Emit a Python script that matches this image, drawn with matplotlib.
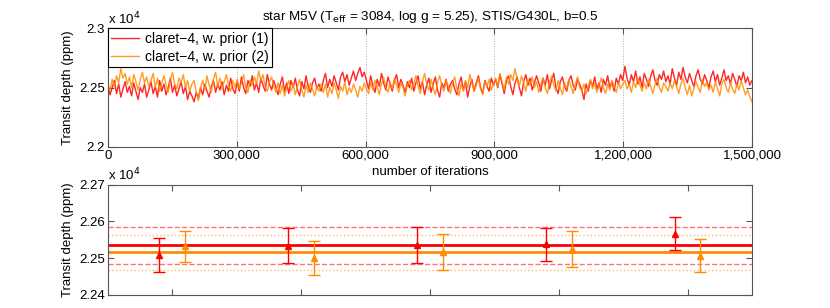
import numpy as np
import matplotlib
matplotlib.use("Agg")
import matplotlib.pyplot as plt
from matplotlib.ticker import FuncFormatter

plt.rcParams['font.family'] = ['Liberation Sans', 'DejaVu Sans']

title = r"star M5V (T$_{\rm eff}$ = 3084, log g = 5.25), STIS/G430L, b=0.5"
labels = ["claret\u22124, w. prior (1)", "claret\u22124, w. prior (2)"]
n_iter = 1500000

# MCMC traces (ppm), one value every 5,000 iterations
trace1 = [
    22520, 22440, 22500, 22560, 22450, 22530, 22420, 22490, 22550, 22460, 22510, 22430, 22540, 22470, 22400, 22500, 22460, 22530, 22420, 22480,
    22550, 22450, 22510, 22420, 22560, 22470, 22530, 22440, 22500, 22580, 22460, 22520, 22430, 22490, 22550, 22450, 22510, 22400, 22470, 22430,
    22380, 22460, 22410, 22500, 22440, 22530, 22470, 22420, 22510, 22560, 22460, 22530, 22480, 22550, 22440, 22520, 22470, 22580, 22490, 22450,
    22550, 22470, 22590, 22500, 22450, 22560, 22510, 22600, 22480, 22540, 22460, 22580, 22520, 22470, 22610, 22530, 22480, 22560, 22500, 22440,
    22530, 22590, 22470, 22540, 22450, 22560, 22500, 22580, 22480, 22430, 22550, 22490, 22600, 22510, 22460, 22540, 22580, 22490, 22530, 22470,
    22560, 22620, 22500, 22570, 22510, 22600, 22540, 22480, 22590, 22630, 22550, 22610, 22520, 22580, 22640, 22560, 22620, 22670, 22590, 22630,
    22560, 22490, 22600, 22520, 22460, 22570, 22510, 22620, 22540, 22480, 22590, 22530, 22470, 22560, 22610, 22500, 22570, 22520, 22460, 22550,
    22500, 22580, 22470, 22540, 22600, 22490, 22550, 22440, 22520, 22580, 22460, 22530, 22590, 22480, 22420, 22540, 22500, 22570, 22470, 22530,
    22560, 22490, 22440, 22530, 22590, 22480, 22550, 22420, 22510, 22570, 22470, 22540, 22600, 22500, 22450, 22560, 22510, 22470, 22580, 22520,
    22570, 22500, 22610, 22530, 22450, 22560, 22600, 22510, 22440, 22540, 22590, 22500, 22430, 22550, 22610, 22520, 22580, 22480, 22540, 22600,
    22540, 22470, 22580, 22520, 22610, 22490, 22560, 22620, 22500, 22450, 22550, 22590, 22510, 22470, 22560, 22600, 22520, 22480, 22570, 22530,
    22480, 22400, 22530, 22470, 22560, 22510, 22590, 22490, 22540, 22460, 22570, 22520, 22600, 22500, 22550, 22470, 22580, 22530, 22610, 22560,
    22680, 22580, 22520, 22610, 22550, 22640, 22530, 22590, 22500, 22620, 22570, 22510, 22600, 22650, 22560, 22520, 22610, 22570, 22640, 22550,
    22600, 22530, 22660, 22580, 22520, 22630, 22570, 22670, 22590, 22540, 22620, 22560, 22510, 22600, 22650, 22570, 22530, 22610, 22560, 22500,
    22590, 22640, 22550, 22610, 22520, 22580, 22650, 22560, 22600, 22530, 22620, 22570, 22510, 22600, 22560, 22630, 22540, 22590, 22520, 22560,
]
trace2 = [
    22520, 22480, 22570, 22510, 22600, 22540, 22660, 22580, 22620, 22530, 22590, 22500, 22610, 22550, 22480, 22570, 22630, 22540, 22590, 22510,
    22560, 22620, 22500, 22580, 22470, 22540, 22600, 22520, 22460, 22570, 22630, 22530, 22490, 22580, 22540, 22610, 22500, 22560, 22470, 22530,
    22560, 22470, 22390, 22500, 22560, 22480, 22600, 22520, 22460, 22570, 22630, 22510, 22580, 22490, 22550, 22610, 22520, 22470, 22560, 22500,
    22570, 22490, 22540, 22610, 22500, 22460, 22560, 22520, 22590, 22530, 22640, 22560, 22610, 22500, 22470, 22550, 22590, 22510, 22460, 22540,
    22450, 22520, 22430, 22500, 22560, 22470, 22530, 22440, 22510, 22570, 22480, 22420, 22520, 22460, 22540, 22490, 22430, 22510, 22470, 22530,
    22460, 22530, 22420, 22500, 22450, 22540, 22480, 22410, 22510, 22470, 22550, 22440, 22500, 22460, 22530, 22480, 22420, 22510, 22470, 22540,
    22490, 22450, 22540, 22480, 22560, 22510, 22440, 22530, 22590, 22500, 22460, 22550, 22490, 22580, 22520, 22460, 22540, 22500, 22430, 22520,
    22560, 22480, 22530, 22600, 22510, 22450, 22550, 22620, 22530, 22480, 22570, 22500, 22440, 22540, 22600, 22520, 22470, 22560, 22510, 22450,
    22540, 22590, 22490, 22430, 22530, 22470, 22560, 22500, 22610, 22540, 22470, 22520, 22580, 22490, 22440, 22550, 22510, 22570, 22480, 22530,
    22580, 22510, 22620, 22550, 22480, 22590, 22530, 22610, 22560, 22660, 22570, 22510, 22600, 22540, 22470, 22570, 22520, 22590, 22500, 22550,
    22460, 22530, 22580, 22500, 22450, 22550, 22600, 22520, 22470, 22560, 22500, 22440, 22540, 22490, 22570, 22510, 22450, 22530, 22590, 22500,
    22470, 22530, 22450, 22510, 22570, 22490, 22540, 22460, 22520, 22580, 22500, 22450, 22530, 22480, 22560, 22510, 22460, 22540, 22490, 22530,
    22560, 22490, 22530, 22460, 22550, 22500, 22580, 22520, 22470, 22540, 22490, 22570, 22510, 22450, 22530, 22580, 22500, 22460, 22540, 22510,
    22470, 22540, 22490, 22560, 22510, 22450, 22530, 22580, 22500, 22440, 22520, 22430, 22490, 22550, 22500, 22460, 22570, 22510, 22540, 22480,
    22520, 22460, 22550, 22490, 22430, 22530, 22570, 22500, 22460, 22540, 22490, 22450, 22530, 22480, 22560, 22500, 22440, 22480, 22420, 22380,
]

# Sub-chain summaries
groups = [1, 2, 3, 4, 5]
mean1 = [22508, 22534, 22536, 22538, 22566]
err1 = [47, 47, 48, 45, 45]
mean2 = [22532, 22501, 22516, 22525, 22506]
err2 = [43, 47, 49, 50, 45]
best1, sig1 = 22535, 50
best2, sig2 = 22516, 48

red = '#ff0000'
orange = '#ff8c00'
frame = '#555555'

fig = plt.figure(figsize=(8.3, 3.08), dpi=100)
ax1 = fig.add_axes([0.130, 0.523, 0.776, 0.385])
ax2 = fig.add_axes([0.130, 0.043, 0.776, 0.357])

x = np.linspace(0, n_iter, len(trace1))
ax1.plot(x, trace1, color=red, lw=1.0, alpha=0.85, label=labels[0])
ax1.plot(x, trace2, color=orange, lw=1.0, alpha=0.85, label=labels[1])
ax1.set_xlim(0, n_iter)
ax1.set_ylim(22000, 23000)
ax1.set_xticks([0, 300000, 600000, 900000, 1200000, 1500000])
ax1.xaxis.set_major_formatter(FuncFormatter(lambda v, p: f"{int(v):,}"))
ax1.set_yticks([22000, 22500, 23000])
ax1.yaxis.set_major_formatter(FuncFormatter(lambda v, p: f"{v/1e4:g}"))
ax1.grid(axis='x', color='#aaaaaa', ls=':', lw=0.7)
ax1.set_xlabel("number of iterations", fontsize=9.5, labelpad=3)
ax1.set_ylabel("Transit depth (ppm)", fontsize=9.5)
ax1.set_title(title, fontsize=9.7, pad=6)
leg = ax1.legend(loc='upper left', fontsize=10, frameon=True, fancybox=False,
                 borderaxespad=0, handlelength=2.0, borderpad=0.25,
                 labelspacing=0.3, handletextpad=0.4, framealpha=1)
leg.get_frame().set_edgecolor('black')
leg.get_frame().set_linewidth(0.8)
ax1.text(0.0, 1.01, r"x 10$^4$", transform=ax1.transAxes, fontsize=9.5,
         ha='left', va='bottom')

g = np.array(groups, dtype=float)
ax2.axhline(best1, color=red, lw=2)
ax2.axhline(best2, color=orange, lw=2)
for s in (-1, 1):
    ax2.axhline(best1 + s * sig1, color=red, lw=1, ls='--', alpha=0.55)
    ax2.axhline(best2 + s * sig2, color=orange, lw=1, ls=':', alpha=0.6)
ax2.errorbar(g - 0.1, mean1, yerr=err1, fmt='^', color=red, ms=5,
             capsize=4, elinewidth=1, capthick=1)
ax2.errorbar(g + 0.1, mean2, yerr=err2, fmt='^', color=orange, ms=5,
             capsize=4, elinewidth=1, capthick=1)
ax2.set_xlim(0.5, 5.5)
ax2.set_ylim(22400, 22700)
ax2.set_xticks(groups)
ax2.set_xticklabels([])
ax2.set_yticks([22400, 22500, 22600, 22700])
ax2.yaxis.set_major_formatter(FuncFormatter(lambda v, p: f"{v/1e4:.2f}"))
ax2.set_ylabel("Transit depth (ppm)", fontsize=9.5)
ax2.text(0.0, 1.01, r"x 10$^4$", transform=ax2.transAxes, fontsize=9.5,
         ha='left', va='bottom')

for ax in (ax1, ax2):
    ax.tick_params(direction='in', top=True, right=True, labelsize=9.5,
                   color=frame, length=4, pad=2)
    for sp in ax.spines.values():
        sp.set_color(frame)

fig.savefig("out.png", dpi=100)
